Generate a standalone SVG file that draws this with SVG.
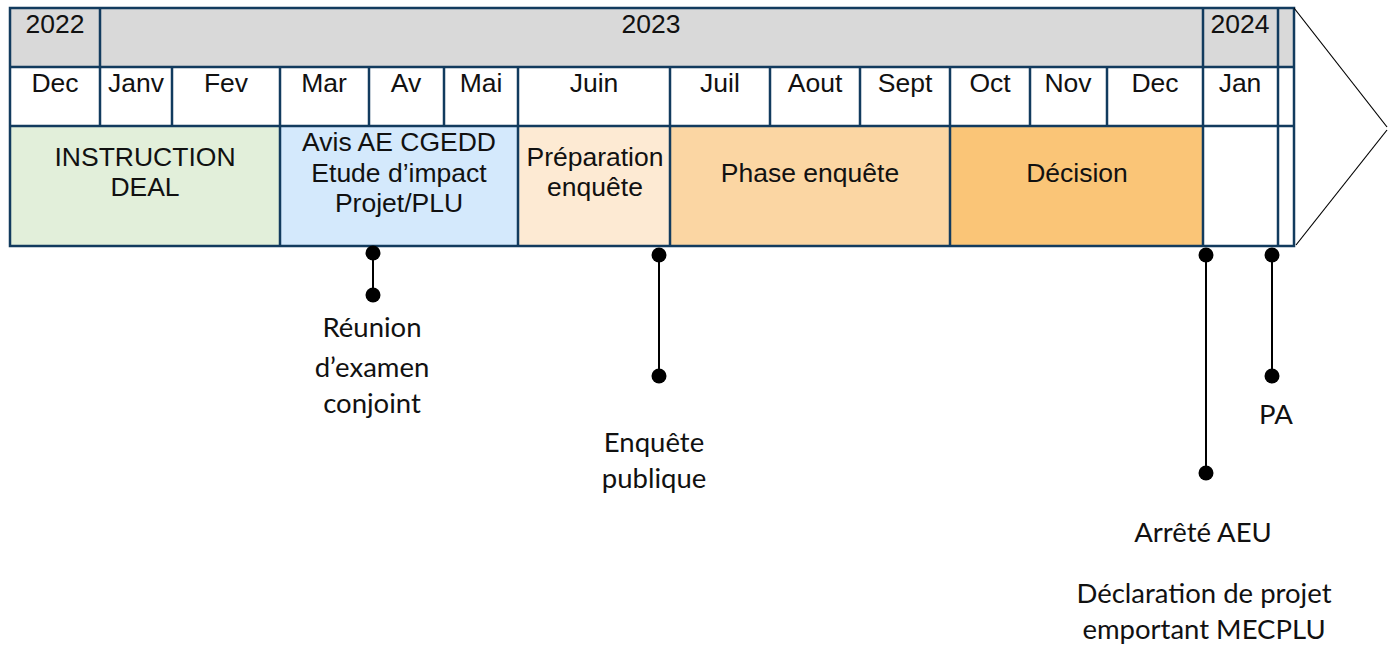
<svg xmlns="http://www.w3.org/2000/svg" width="1397" height="648" viewBox="0 0 1397 648">
  <style>
    .grid { stroke: #123B5E; stroke-width: 2.5; fill: none; }
    .t { font-family: "Liberation Sans", Arial, sans-serif; font-size: 26.5px; fill: #111; text-anchor: middle; }
    .lbl { font-family: Lato, "Liberation Sans", sans-serif; font-size: 27.5px; fill: #111; text-anchor: middle; }
    .stem { stroke: #000; stroke-width: 2; marker-start: url(#dot); marker-end: url(#dot); }
    .tip { stroke: #000; stroke-width: 1.2; fill: none; }
  </style>
  <defs>
    <marker id="dot" viewBox="-8 -8 16 16" markerWidth="16" markerHeight="16" markerUnits="userSpaceOnUse" refX="0" refY="0">
      <circle r="7.5" fill="#000"/>
    </marker>
  </defs>

  <rect width="1397" height="648" fill="#fff"/>

  <!-- year row -->
  <g id="years">
    <rect x="10" y="8" width="1284" height="59" fill="#D9D9D9"/>
    <text class="t" x="55" y="33">2022</text>
    <text class="t" x="651" y="33">2023</text>
    <text class="t" x="1240" y="33">2024</text>
  </g>

  <!-- month row -->
  <g id="months">
    <rect x="10" y="67" width="1284" height="59" fill="#fff"/>
    <text class="t" x="55" y="92">Dec</text>
    <text class="t" x="136" y="92">Janv</text>
    <text class="t" x="226" y="92">Fev</text>
    <text class="t" x="324" y="92">Mar</text>
    <text class="t" x="406" y="92">Av</text>
    <text class="t" x="481" y="92">Mai</text>
    <text class="t" x="594" y="92">Juin</text>
    <text class="t" x="720" y="92">Juil</text>
    <text class="t" x="815" y="92">Aout</text>
    <text class="t" x="905" y="92">Sept</text>
    <text class="t" x="990" y="92">Oct</text>
    <text class="t" x="1068" y="92">Nov</text>
    <text class="t" x="1155" y="92">Dec</text>
    <text class="t" x="1240" y="92">Jan</text>
  </g>

  <!-- phase row -->
  <g id="phase-instruction">
    <rect x="10" y="126" width="270" height="120" fill="#E2EFDA"/>
    <text class="t" x="145" y="166">INSTRUCTION</text>
    <text class="t" x="145" y="196">DEAL</text>
  </g>
  <g id="phase-avis">
    <rect x="280" y="126" width="238" height="120" fill="#D4E9FC"/>
    <text class="t" x="399" y="151">Avis AE CGEDD</text>
    <text class="t" x="399" y="182">Etude d’impact</text>
    <text class="t" x="399" y="212">Projet/PLU</text>
  </g>
  <g id="phase-preparation">
    <rect x="518" y="126" width="152" height="120" fill="#FDEAD3"/>
    <text class="t" x="595" y="166">Préparation</text>
    <text class="t" x="595" y="196">enquête</text>
  </g>
  <g id="phase-enquete">
    <rect x="670" y="126" width="280" height="120" fill="#FBD6A3"/>
    <text class="t" x="810" y="182">Phase enquête</text>
  </g>
  <g id="phase-decision">
    <rect x="950" y="126" width="253" height="120" fill="#FAC577"/>
    <text class="t" x="1077" y="182">Décision</text>
  </g>

  <!-- table rules -->
  <g id="grid" class="grid">
    <rect x="10" y="8" width="1284" height="238"/>
    <line x1="10" y1="67" x2="1294" y2="67"/>
    <line x1="10" y1="126" x2="1294" y2="126"/>
    <line x1="100" y1="8" x2="100" y2="126"/>
    <line x1="1203" y1="8" x2="1203" y2="246"/>
    <line x1="1278" y1="8" x2="1278" y2="246"/>
    <line x1="172" y1="67" x2="172" y2="126"/>
    <line x1="280" y1="67" x2="280" y2="246"/>
    <line x1="369" y1="67" x2="369" y2="126"/>
    <line x1="444" y1="67" x2="444" y2="126"/>
    <line x1="518" y1="67" x2="518" y2="246"/>
    <line x1="670" y1="67" x2="670" y2="246"/>
    <line x1="770" y1="67" x2="770" y2="126"/>
    <line x1="860" y1="67" x2="860" y2="126"/>
    <line x1="950" y1="67" x2="950" y2="246"/>
    <line x1="1030" y1="67" x2="1030" y2="126"/>
    <line x1="1107" y1="67" x2="1107" y2="126"/>
  </g>

  <!-- arrow head of the time axis -->
  <g id="axis-tip" class="tip">
    <line x1="1294" y1="8" x2="1387" y2="127"/>
    <line x1="1387" y1="130" x2="1296" y2="245"/>
  </g>

  <!-- milestone stems -->
  <g id="connectors">
    <line class="stem" x1="373" y1="253" x2="373" y2="295"/>
    <line class="stem" x1="659" y1="255" x2="659" y2="376"/>
    <line class="stem" x1="1206" y1="255" x2="1206" y2="473"/>
    <line class="stem" x1="1272" y1="255" x2="1272" y2="376"/>
  </g>

  <!-- milestone labels -->
  <g id="m-reunion">
    <text class="lbl" x="372" y="337">Réunion</text>
    <text class="lbl" x="372" y="377">d’examen</text>
    <text class="lbl" x="372" y="413">conjoint</text>
  </g>
  <g id="m-enquete">
    <text class="lbl" x="654" y="452">Enquête</text>
    <text class="lbl" x="654" y="488">publique</text>
  </g>
  <g id="m-pa">
    <text class="lbl" x="1276" y="424">PA</text>
  </g>
  <g id="m-arrete">
    <text class="lbl" x="1203" y="542">Arrêté AEU</text>
    <text class="lbl" x="1204" y="603">Déclaration de projet</text>
    <text class="lbl" x="1204" y="639">emportant MECPLU</text>
  </g>
</svg>
